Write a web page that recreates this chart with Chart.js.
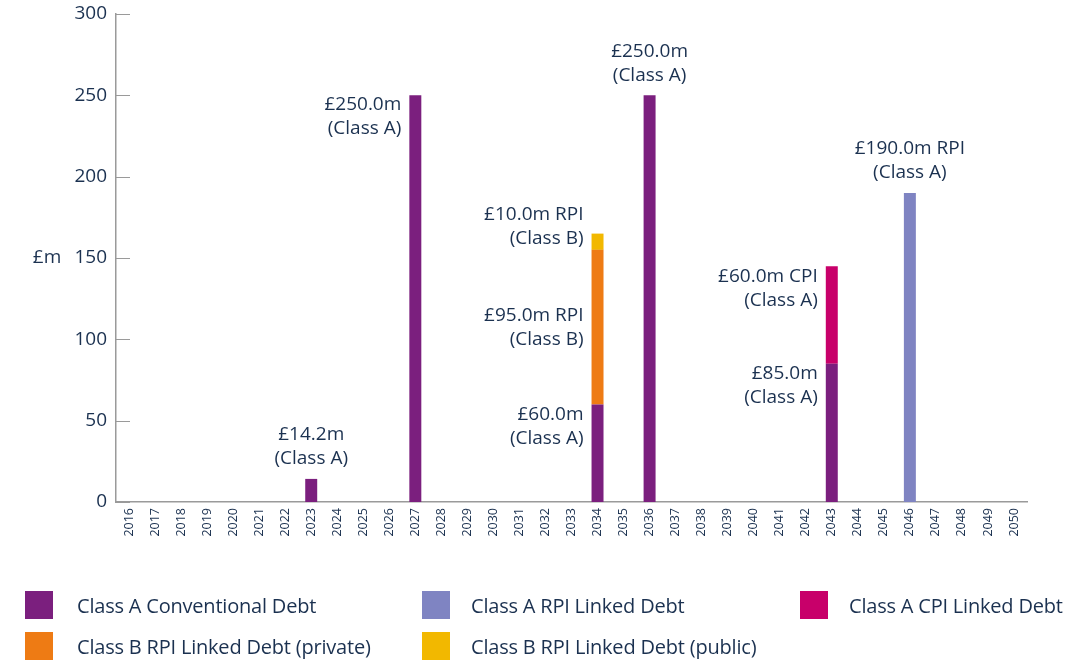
<!DOCTYPE html>
<html>
<head>
<meta charset="utf-8">
<script src="https://cdn.jsdelivr.net/npm/chart.js@4.4.1/dist/chart.umd.min.js"></script>
<style>
  body { margin: 0; background: #fff; font-family: 'Open Sans', sans-serif; }
  #wrap { position: relative; width: 1069px; height: 661px; }
  #chartBox { position: absolute; left: 0; top: 0; width: 1069px; height: 542px; }
  #legend { position: absolute; left: 0; top: 0; width: 1069px; height: 661px; pointer-events: none; }
  .item { position: absolute; display: flex; align-items: center; color: #1b3150; font-size: 20px; font-weight: 500; letter-spacing: -0.2px; }
  .item span.box { width: 28px; height: 28px; display: inline-block; }
</style>
</head>
<body>
<div id="wrap">
  <div id="chartBox"><canvas id="debtChart"></canvas></div>
  <div id="legend"></div>
</div>
<script>
var years = ['2016', '2017', '2018', '2019', '2020', '2021', '2022', '2023', '2024', '2025', '2026', '2027', '2028', '2029', '2030', '2031', '2032', '2033', '2034', '2035', '2036', '2037', '2038', '2039', '2040', '2041', '2042', '2043', '2044', '2045', '2046', '2047', '2048', '2049', '2050'];

// one value per year, 2016 -> 2050
var classAConventional = [0, 0, 0, 0, 0, 0, 0, 14.2, 0, 0, 0, 250, 0, 0, 0, 0, 0, 0, 60, 0, 250, 0, 0, 0, 0, 0, 0, 85, 0, 0, 0, 0, 0, 0, 0];
var classARpi          = [0, 0, 0, 0, 0, 0, 0, 0, 0, 0, 0, 0, 0, 0, 0, 0, 0, 0, 0, 0, 0, 0, 0, 0, 0, 0, 0, 0, 0, 0, 190, 0, 0, 0, 0];
var classACpi          = [0, 0, 0, 0, 0, 0, 0, 0, 0, 0, 0, 0, 0, 0, 0, 0, 0, 0, 0, 0, 0, 0, 0, 0, 0, 0, 0, 60, 0, 0, 0, 0, 0, 0, 0];
var classBRpiPrivate   = [0, 0, 0, 0, 0, 0, 0, 0, 0, 0, 0, 0, 0, 0, 0, 0, 0, 0, 95, 0, 0, 0, 0, 0, 0, 0, 0, 0, 0, 0, 0, 0, 0, 0, 0];
var classBRpiPublic    = [0, 0, 0, 0, 0, 0, 0, 0, 0, 0, 0, 0, 0, 0, 0, 0, 0, 0, 10, 0, 0, 0, 0, 0, 0, 0, 0, 0, 0, 0, 0, 0, 0, 0, 0];

var seriesNames = ['Class A Conventional Debt', 'Class A RPI Linked Debt', 'Class A CPI Linked Debt', 'Class B RPI Linked Debt (private)', 'Class B RPI Linked Debt (public)'];
var yTicks = [0, 50, 100, 150, 200, 250, 300];

// labels next to bars: year, dataset index (segment), text, placement
var notes = [
    { year: '2023', ds: 0, lines: ['£14.2m', '(Class A)'], place: 'above' },
    { year: '2027', ds: 0, lines: ['£250.0m', '(Class A)'], place: 'left', dy: 9 },
    { year: '2034', ds: 4, lines: ['£10.0m RPI', '(Class B)'], place: 'left', dy: -19 },
    { year: '2034', ds: 3, lines: ['£95.0m RPI', '(Class B)'], place: 'mid' },
    { year: '2034', ds: 0, lines: ['£60.0m', '(Class A)'], place: 'left', dy: 10 },
    { year: '2036', ds: 0, lines: ['£250.0m', '(Class A)'], place: 'above' },
    { year: '2043', ds: 2, lines: ['£60.0m CPI', '(Class A)'], place: 'left', dy: 10 },
    { year: '2043', ds: 0, lines: ['£85.0m', '(Class A)'], place: 'left', dy: 10 },
    { year: '2046', ds: 1, lines: ['£190.0m RPI', '(Class A)'], place: 'above' }
];

const colors = ['#7b1f7e', '#7f84c2', '#c8006a', '#ee7b14', '#f2b800'];
const textColor = '#1b3150';
const axisColor = '#9a9a9a';

const seriesData = [classAConventional, classARpi, classACpi, classBRpiPrivate, classBRpiPublic];

var notesPlugin = {
    id: 'notes',
    afterDatasetsDraw: function (chart) {
        var ctx = chart.ctx;
        var yScale = chart.scales.y;
        var lineH = 24;
        ctx.save();
        ctx.font = '500 19px "Open Sans"';
        ctx.fillStyle = textColor;
        ctx.textBaseline = 'middle';
        notes.forEach(function (n) {
            var idx = years.indexOf(n.year);
            var bar = chart.getDatasetMeta(n.ds).data[idx];
            var top = bar.y, bottom = bar.base;
            if (n.place === 'above') {
                ctx.textAlign = 'center';
                var y0 = top - 20 - lineH * (n.lines.length - 1);
                n.lines.forEach(function (t, i) { ctx.fillText(t, bar.x, y0 + i * lineH); });
            } else {
                ctx.textAlign = 'right';
                var y1 = n.place === 'mid' ? (top + bottom) / 2 - lineH / 2 : top + n.dy;
                n.lines.forEach(function (t, i) { ctx.fillText(t, bar.x - 14, y1 + i * lineH); });
            }
        });

        // short inward tick marks on y axis
        ctx.strokeStyle = axisColor;
        ctx.lineWidth = 1;
        yScale.ticks.forEach(function (t) {
            var py = Math.round(yScale.getPixelForValue(t.value)) + 0.5;
            ctx.beginPath();
            ctx.moveTo(chart.chartArea.left, py);
            ctx.lineTo(chart.chartArea.left + 14, py);
            ctx.stroke();
        });

        // axis unit
        ctx.textAlign = 'center';
        ctx.fillText('£m', 47, (chart.chartArea.top + chart.chartArea.bottom) / 2);
        ctx.restore();
    }
};

var ctx = document.getElementById('debtChart').getContext('2d');

var myChart = new Chart(ctx, {
    type: 'bar',
    data: {
        labels: years,
        datasets: seriesData.map(function (d, i) {
            return {
                label: seriesNames[i],
                data: d,
                backgroundColor: colors[i],
                borderWidth: 0,
                barPercentage: 0.46,
                categoryPercentage: 1
            };
        })
    },
    options: {
        responsive: true,
        maintainAspectRatio: false,
        animation: false,
        layout: {
            padding: { left: 0, right: 42, top: 14, bottom: 0 }
        },
        scales: {
            x: {
                stacked: true,
                grid: { display: false, drawTicks: false },
                border: { color: axisColor, width: 1.5 },
                ticks: {
                    color: textColor,
                    font: { family: 'Open Sans', size: 12.5, weight: 500 },
                    minRotation: 90,
                    maxRotation: 90,
                    padding: 6,
                    autoSkip: false
                },
                afterFit: function (scale) { scale.height = 40; scale.paddingLeft = 0; scale.paddingRight = 0; }
            },
            y: {
                stacked: true,
                min: 0,
                max: 300,
                afterBuildTicks: function (scale) {
                    scale.ticks = yTicks.map(function (v) { return { value: v }; });
                },
                grid: { display: false, drawTicks: false },
                border: { color: axisColor, width: 1.5 },
                ticks: {
                    color: textColor,
                    font: { family: 'Open Sans', size: 19, weight: 500 },
                    padding: 9
                },
                afterFit: function (scale) { scale.width = 116; scale.paddingTop = 0; scale.paddingBottom = 0; }
            }
        },
        plugins: {
            legend: { display: false },
            tooltip: { enabled: false }
        }
    },
    plugins: [notesPlugin]
});

// legend laid out in a grid like the original
var legendPos = [[25, 591], [422, 591], [800, 591], [25, 632], [422, 632]];
var legendEl = document.getElementById('legend');
seriesNames.forEach(function (name, i) {
    var div = document.createElement('div');
    div.className = 'item';
    div.style.left = legendPos[i][0] + 'px';
    div.style.top = legendPos[i][1] + 'px';
    div.innerHTML = '<span class="box" style="background:' + colors[i] + '"></span><span style="margin-left:' + (i % 3 === 0 ? 24 : 21) + 'px">' + name + '</span>';
    legendEl.appendChild(div);
});
</script>
</body>
</html>
